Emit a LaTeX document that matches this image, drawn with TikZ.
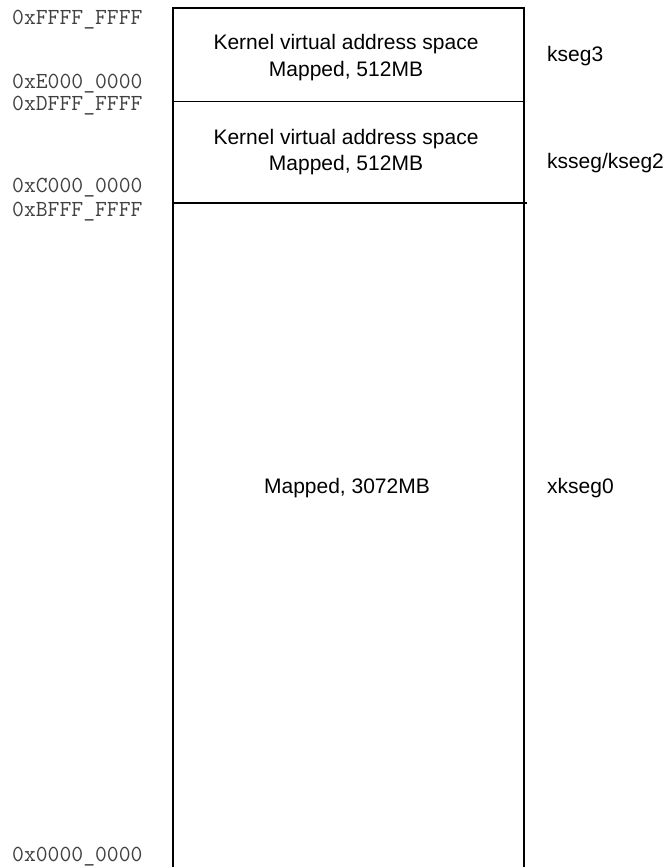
\documentclass[tikz,border=0pt]{standalone}
\usepackage{fontspec}
\setmainfont{Liberation Sans}
\begin{document}
\begin{tikzpicture}[x=1pt,y=-1pt,
  boxline/.style={line width=1.8pt, black},
  addr/.style={anchor=base west, inner sep=0pt, font=\ttfamily\fontsize{23}{23}\selectfont, text=black!75},
  region/.style={anchor=base, inner sep=0pt, font=\fontsize{21}{21}\selectfont},
  seglabel/.style={anchor=base west, inner sep=0pt, font=\fontsize{21}{21}\selectfont}]
\useasboundingbox (0,0) rectangle (666,867);
% box corners and dividers
\coordinate (tl) at (173,8);
\coordinate (tr) at (524,8);
\coordinate (bl) at (173,867);
\coordinate (br) at (524,867);
\coordinate (d1l) at (173,101.5);
\coordinate (d1r) at (524,101.5);
\coordinate (d2l) at (173,203);
\coordinate (d2r) at (527,203);
\draw[boxline] (bl) -- (tl) -- (tr) -- (br);
\draw[boxline] (d1l) -- (d1r);
\draw[boxline] (d2l) -- (d2r);
% addresses
\node[addr] (aFFFF) at (12,25) {0xFFFF\_FFFF};
\node[addr] (aE000) at (12,88.5) {0xE000\_0000};
\node[addr] (aDFFF) at (12,110) {0xDFFF\_FFFF};
\node[addr] (aC000) at (12,192) {0xC000\_0000};
\node[addr] (aBFFF) at (12,216) {0xBFFF\_FFFF};
\node[addr] (a0000) at (12,861) {0x0000\_0000};
% region texts
\node[region] (k3a) at (346,50) {Kernel virtual address space};
\node[region] (k3b) at (346,77) {Mapped, 512MB};
\node[region] (k2a) at (346,144) {Kernel virtual address space};
\node[region] (k2b) at (346,170) {Mapped, 512MB};
\node[region] (k0) at (347,493) {Mapped, 3072MB};
% segment labels
\node[seglabel] (s3) at (547,62) {kseg3};
\node[seglabel] (s2) at (547,168) {ksseg/kseg2};
\node[seglabel] (s0) at (547,493) {xkseg0};
\end{tikzpicture}
\end{document}
